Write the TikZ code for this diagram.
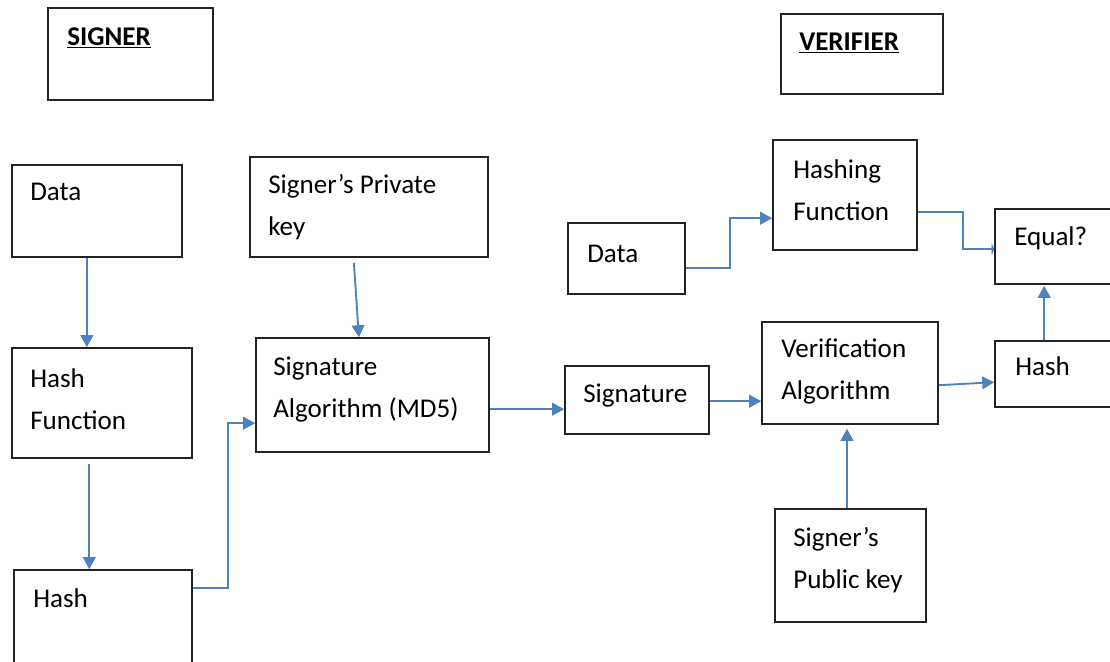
\documentclass[tikz,border=0pt]{standalone}
\usepackage{fontspec}
\setmainfont{Carlito}
\usetikzlibrary{arrows.meta,calc,fit}
\definecolor{conncol}{RGB}{79,129,189}
\definecolor{boxcol}{RGB}{35,35,35}
\tikzset{
  box/.style={draw=boxcol, line width=1.2pt, inner sep=0pt},
  lbl/.style={inner sep=0pt, anchor=base west, align=left, font=\fontsize{20.3}{31.5}\selectfont},
  ttl/.style={inner sep=0pt, anchor=base west, font=\fontsize{20.3}{31}\selectfont\bfseries},
  conn/.style={draw=conncol, line width=1.4pt, -{Triangle[length=9pt,width=9.5pt]}},
  stubconn/.style={draw=conncol, line width=1.4pt, -{Triangle[length=2pt,width=9pt]}}
}
\begin{document}
\begin{tikzpicture}[x=0.75pt,y=-0.75pt]
\useasboundingbox (0,0) rectangle (1110,661);
\fill[white] (0,0) rectangle (1110,661);
\clip (0,0) rectangle (1110,661);

% title boxes
\node[box, fit={(48,8) (213,100)}] (signer) {};
\node[ttl] (signerT) at (67,45) {\underline{SIGNER}};
\node[box, fit={(781,14) (943,94)}] (verifier) {};
\node[ttl] (verifierT) at (799,50) {\underline{VERIFIER}};

% signer side (multi-line labels are placed by the baseline of their last line)
\node[box, fit={(12,165) (182,257)}] (data) {};
\node[lbl] (dataT) at (30,200) {Data};
\node[box, fit={(250,157) (488,257)}] (priv) {};
\node[lbl] (privT) at (268,235) {Signer’s Private\\key};
\node[box, fit={(12,348) (192,458)}] (hashfn) {};
\node[lbl] (hashfnT) at (30,429) {Hash\\Function};
\node[box, fit={(256,338) (489,452)}] (sigalg) {};
\node[lbl] (sigalgT) at (273,417) {Signature\\Algorithm (MD5)};
\node[box, fit={(14,570) (192,668)}] (hash) {};
\node[lbl] (hashT) at (33,607) {Hash};
\node[box, fit={(565,366) (709,434)}] (signature) {};
\node[lbl] (signatureT) at (583,402) {Signature};

% verifier side
\node[box, fit={(568,223) (685,294)}] (data2) {};
\node[lbl] (data2T) at (587,262) {Data};
\node[box, fit={(773,140) (917,250)}] (hashing) {};
\node[lbl] (hashingT) at (793,220) {Hashing\\Function};
\node[box, fit={(995,209) (1116,284)}] (equal) {};
\node[lbl] (equalT) at (1014,245) {Equal?};
\node[box, fit={(762,322) (938,424)}] (verif) {};
\node[lbl] (verifT) at (781,399) {Verification\\Algorithm};
\node[box, fit={(995,341) (1116,407)}] (hash2) {};
\node[lbl] (hash2T) at (1015,375) {Hash};
\node[box, fit={(775,509) (926,622)}] (pub) {};
\node[lbl] (pubT) at (793,588) {Signer’s\\Public key};

% connectors
\coordinate (a1) at ($(data.south west)!0.441!(data.south east)$);
\draw[conn] (a1) -- (a1 |- hashfn.north);

\coordinate (a2) at ($($(hashfn.south west)!0.43!(hashfn.south east)$)+(0,5)$);
\draw[conn] (a2) -- (a2 |- hash.north);

\coordinate (a3) at ($($(priv.south west)!0.437!(priv.south east)$)+(0,5)$);
\draw[conn] (a3) -- ($(sigalg.north west)!0.442!(sigalg.north east)$);

\coordinate (a4) at ($(hash.north east)+(0,19)$);
\coordinate (a4e) at ($(sigalg.north west)+(0,86)$);
\draw[conn] (a4) -- ++(35,0) |- (a4e);

\coordinate (a5) at ($(sigalg.north east)+(0,72)$);
\draw[conn] (a5) -- (a5 -| signature.west);

\coordinate (a6) at ($(signature.north east)+(0,36)$);
\draw[conn] (a6) -- (a6 -| verif.west);

\coordinate (a7) at ($(pub.north west)!0.477!(pub.north east)$);
\draw[conn] (a7) -- ($(a7 |- verif.south)+(0,4)$);

\coordinate (a8) at ($(data2.north east)+(0,46)$);
\coordinate (a8e) at ($(hashing.north west)+(0,79)$);
\draw[conn] (a8) -- ++(44,0) |- (a8e);

\coordinate (a9) at ($(hashing.north east)+(0,73)$);
\coordinate (a9e) at ($(equal.north west)+(0,41)$);
\draw[stubconn] (a9) -- ++(45,0) |- (a9e);

\draw[conn] ($(verif.north east)+(0,64)$) -- ($(hash2.north west)+(0,42)$);

\coordinate (a11) at ($(hash2.north west)+(50,0)$);
\draw[conn] (a11) -- ($(a11 |- equal.south)+(0,1)$);
\end{tikzpicture}
\end{document}
